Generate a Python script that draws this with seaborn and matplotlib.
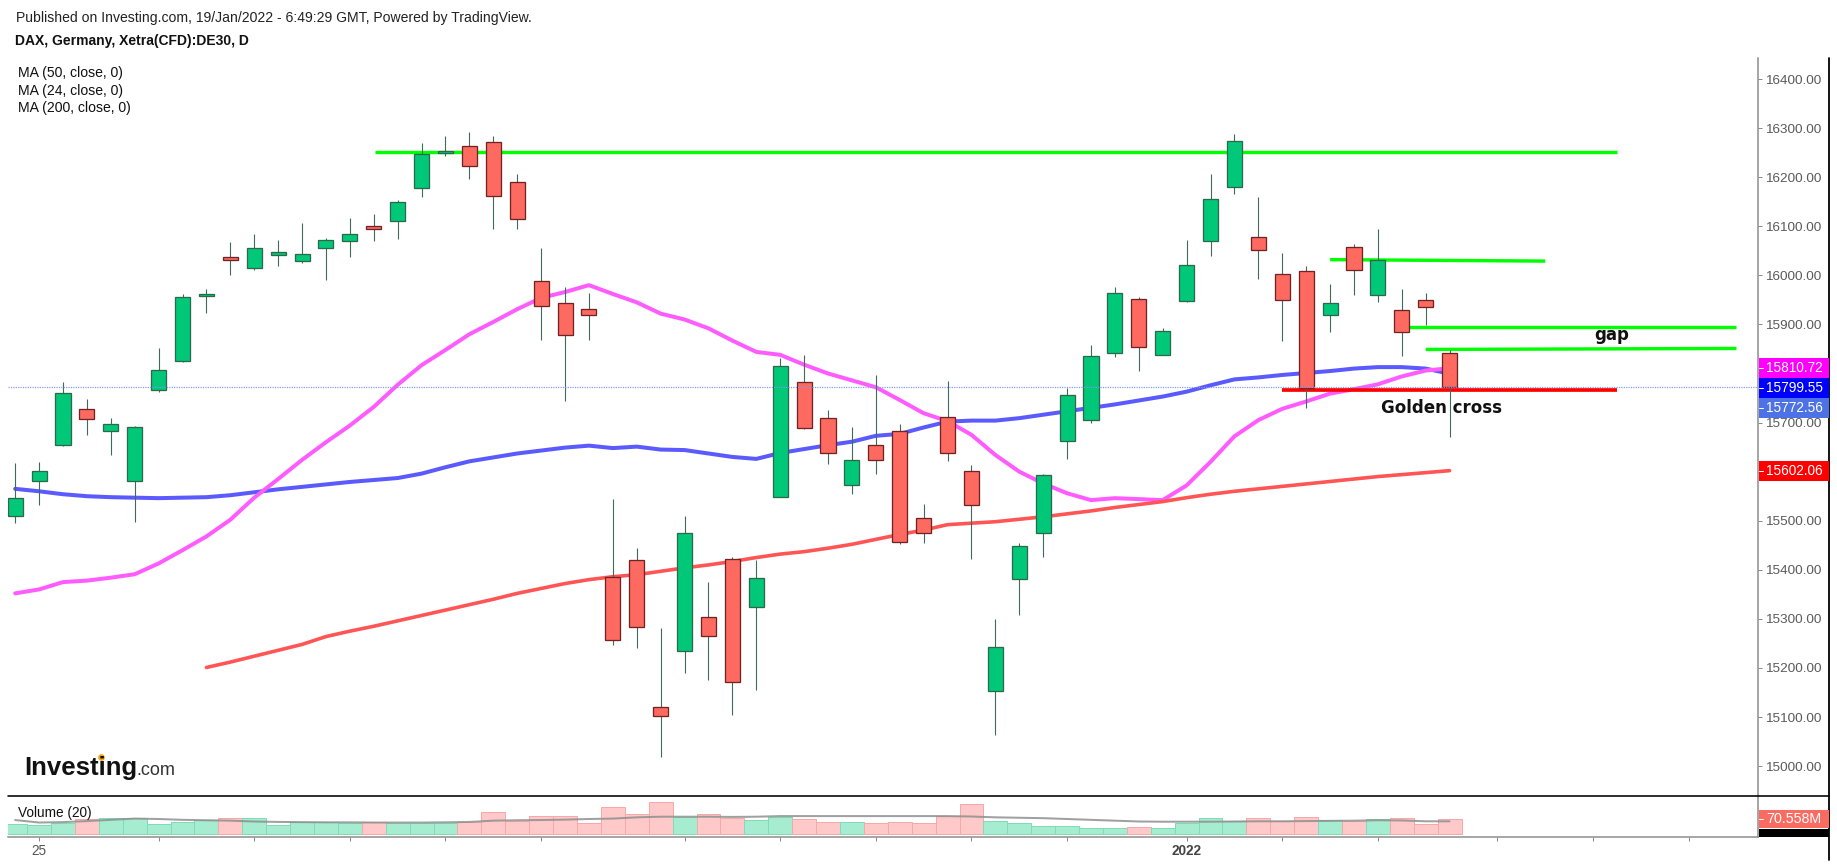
import numpy as np
import pandas as pd
import seaborn as sns
import matplotlib.pyplot as plt
from matplotlib.patches import Rectangle
from matplotlib.lines import Line2D

W, H = 1837, 866

# DAX daily candles, 22 Oct 2021 .. 18 Jan 2022
opens = [15510, 15581, 15655, 15727, 15682, 15581, 15766, 15825, 15958, 16037,
         16014, 16041, 16029, 16055, 16070, 16100, 16111, 16177, 16250, 16264,
         16271, 16190, 15988, 15943, 15931, 15385, 15421, 15120, 15234, 15303,
         15423, 15324, 15548, 15783, 15709, 15573, 15655, 15683, 15505, 15711,
         15601, 15154, 15381, 15476, 15662, 15705, 15841, 15952, 15838, 15948,
         16069, 16179, 16078, 16002, 16009, 15919, 16058, 15960, 15930, 15950,
         15841]
highs = [15617, 15620, 15783, 15748, 15709, 15693, 15852, 15962, 15973, 16068,
         16085, 16072, 16107, 16077, 16116, 16124, 16153, 16269, 16284, 16293,
         16284, 16206, 16055, 15977, 15963, 15544, 15444, 15281, 15510, 15376,
         15426, 15419, 15831, 15838, 15726, 15692, 15796, 15698, 15534, 15784,
         15614, 15299, 15454, 15595, 15771, 15858, 15976, 15956, 15892, 16071,
         16206, 16288, 16160, 16045, 16018, 15982, 16063, 16094, 15973, 15964,
         15848]
lows = [15496, 15533, 15653, 15674, 15633, 15498, 15763, 15824, 15924, 16000,
        16011, 16018, 16026, 15990, 16037, 16070, 16075, 16160, 16243, 16196,
        16094, 16094, 15868, 15743, 15868, 15247, 15241, 15018, 15190, 15175,
        15104, 15155, 15548, 15686, 15616, 15554, 15595, 15453, 15455, 15622,
        15422, 15063, 15308, 15427, 15626, 15700, 15834, 15806, 15838, 15945,
        16039, 16166, 15993, 15866, 15730, 15884, 15959, 15945, 15836, 15899,
        15671]
closes = [15546, 15601, 15760, 15708, 15698, 15691, 15808, 15956, 15961, 16031,
          16055, 16047, 16043, 16071, 16085, 16095, 16150, 16248, 16253, 16223,
          16161, 16115, 15937, 15879, 15919, 15258, 15283, 15102, 15474, 15265,
          15171, 15383, 15815, 15688, 15639, 15624, 15624, 15456, 15476, 15637,
          15533, 15242, 15448, 15594, 15756, 15836, 15965, 15853, 15886, 16022,
          16155, 16274, 16052, 15950, 15770, 15943, 16011, 16031, 15884, 15935,
          15772.56]
# volume in millions
volume = [46.6, 43.2, 54.2, 70.6, 76.8, 76.8, 46.6, 57.6, 67.2, 76.8,
          76.8, 44.6, 57.6, 57.6, 54.2, 57.6, 51.4, 51.4, 54.2, 57.6,
          105.6, 62.4, 87.9, 87.9, 54.2, 131.1, 96.0, 152.2, 80.2, 96.0,
          76.8, 67.2, 80.2, 70.6, 57.6, 57.6, 51.4, 57.6, 51.4, 87.9,
          142.6, 62.4, 52.8, 39.8, 39.8, 27.4, 27.4, 33.6, 27.4, 52.8,
          75.4, 62.4, 75.4, 63.8, 80.2, 67.2, 63.8, 70.6, 75.4, 46.6,
          70.558]
vol_ma = [67, 55, 57, 62, 68, 74, 72, 68, 66, 64, 60, 58, 57, 56, 56, 55, 55, 55,
          56, 58, 64, 66, 67, 69, 72, 74, 80, 83, 83, 83, 82, 83, 86, 86, 86, 86,
          86, 86, 86, 86, 84, 80, 78, 76, 72, 68, 64, 60, 59, 59, 59, 60, 61, 61,
          62, 63, 64, 66, 65, 61, 61]
ma50 = [15565, 15560, 15554, 15550, 15548, 15547, 15546, 15547, 15548, 15552,
        15558, 15564, 15569, 15574, 15579, 15583, 15587, 15596, 15609, 15621,
        15629, 15637, 15643, 15649, 15653, 15648, 15651, 15645, 15644, 15637,
        15630, 15626, 15638, 15646, 15654, 15661, 15673, 15677, 15690, 15702,
        15704, 15704, 15709, 15716, 15723, 15730, 15737, 15745, 15753, 15763,
        15776, 15788, 15792, 15797, 15801, 15805, 15810, 15813, 15813, 15810,
        15799.55]
ma24 = [15352, 15360, 15375, 15378, 15384, 15391, 15413, 15440, 15468, 15502,
        15547, 15585, 15624, 15660, 15694, 15732, 15777, 15817, 15848, 15880,
        15905, 15931, 15954, 15966, 15980, 15962, 15945, 15922, 15910, 15892,
        15867, 15844, 15838, 15818, 15800, 15786, 15772, 15746, 15719, 15703,
        15675, 15634, 15600, 15576, 15556, 15542, 15546, 15544, 15542, 15572,
        15620, 15672, 15705, 15728, 15743, 15759, 15768, 15778, 15794, 15806,
        15810.72]
ma200_start = 8
ma200 = [15201, 15212, 15224, 15236, 15248, 15264, 15275, 15285, 15296, 15307,
         15318, 15329, 15340, 15352, 15362, 15372, 15380, 15386, 15390, 15397,
         15404, 15410, 15417, 15425, 15432, 15437, 15444, 15452, 15462, 15472,
         15481, 15492, 15495, 15498, 15503, 15508, 15514, 15520, 15527, 15533,
         15539, 15547, 15554, 15560, 15565, 15570, 15575, 15580, 15585, 15590,
         15594, 15598, 15602.06]

tick_idx = [1, 6, 10, 14, 18, 22, 28, 32, 36, 40, 44, 49, 53, 57, 62, 66, 70]
tick_text = ['25', '', '', '', '', '', '', '', '', '', '', '2022', '', '', '', '', '']
price_ticks = list(range(15000, 16401, 100))

# hand drawn levels: start bar, end bar, start price, end price
lvl_x0 = [15.05, 55.0, 58.3, 59.0, 53.0]
lvl_x1 = [67.0, 64.0, 72.0, 72.0, 67.0]
lvl_p0 = [16251, 16032, 15894.5, 15849, 15767]
lvl_p1 = [16251, 16029, 15894.5, 15851, 15767]
lvl_kind = ['res', 'res', 'res', 'res', 'sup']

notes = ['gap', 'Golden cross']
note_x = [66.77, 59.66]
note_p = [15868, 15720]

df = pd.DataFrame({'o': opens, 'h': highs, 'l': lows, 'c': closes,
                   'vol': volume, 'vol_ma': vol_ma, 'ma50': ma50, 'ma24': ma24})
df['i'] = np.arange(len(df))
df['up'] = df['c'] >= df['o']
df200 = pd.DataFrame({'i': np.arange(ma200_start, ma200_start + len(ma200)), 'ma200': ma200})

sns.set_theme(style='white')
plt.rcParams['font.family'] = ['Liberation Sans', 'DejaVu Sans']

px = 0.72  # points per pixel at 100 dpi
fig = plt.figure(figsize=(W / 100, H / 100), dpi=100)
ax = fig.add_axes([8 / W, 1 - 795 / H, 1750 / W, 737 / H])
axv = fig.add_axes([8 / W, 1 - 837 / H, 1750 / W, 41 / H], sharex=ax)

ax.set_xlim(-0.30, 72.90)
ax.set_ylim(14941.2, 16442.8)
axv.set_ylim(-14.4, 182.4)

# moving averages (under the candles)
sns.lineplot(data=df, x='i', y='ma50', ax=ax, color='#5a5aff', linewidth=4 * px, zorder=2)
sns.lineplot(data=df, x='i', y='ma24', ax=ax, color='#ff5cff', linewidth=4 * px, zorder=2)
sns.lineplot(data=df200, x='i', y='ma200', ax=ax, color='#ff5555', linewidth=3.6 * px, zorder=2)

# drawn levels
for x0, x1, p0, p1, k in zip(lvl_x0, lvl_x1, lvl_p0, lvl_p1, lvl_kind):
    ax.plot([x0, x1], [p0, p1], color='#00ff00' if k == 'res' else '#ff0000',
            linewidth=(3.4 if k == 'res' else 3.7) * px, solid_capstyle='butt', zorder=2.5)

# candles
green, red = '#00c878', '#ff6a60'
ax.vlines(df['i'], df['l'], df['h'], colors='#3d6b55', linewidth=1.1 * px, zorder=3)
body_lo = np.minimum(df['o'], df['c'])
body_h = np.maximum((df['c'] - df['o']).abs(), 2.5)
ax.bar(df['i'], body_h, bottom=body_lo, width=0.63,
       color=np.where(df['up'], green, red),
       edgecolor=np.where(df['up'], '#2a6a4a', '#6e2424'),
       linewidth=1.3 * px, zorder=4)

# last price line
ax.axhline(closes[-1], color='#7b9cf0', linewidth=1.2 * px, linestyle=(0, (1, 1)), zorder=5)

for t, xi, p in zip(notes, note_x, note_p):
    ax.text(xi, p, t, ha='center', va='baseline', fontsize=12, fontweight='bold',
            family='DejaVu Sans', color='#111111', zorder=6)


def y_px(axis, v):
    return H - axis.transData.transform((0, v))[1]


# value badges on the price scale, stacked so they do not overlap
badge_h = 20.0
labels = sorted([(ma24[-1], '#ff00ff'), (ma50[-1], '#0000ff'),
                 (closes[-1], '#4d72e6'), (ma200[-1], '#ff0000')], key=lambda t: -t[0])
badge_pos = []
prev = -1e9
for v, col in labels:
    yc = max(y_px(ax, v), prev + badge_h)
    badge_pos.append((yc, v, col))
    prev = yc

# price axis (labels hidden behind a badge are left blank)
for s in ['top', 'left', 'bottom']:
    ax.spines[s].set_visible(False)
ax.spines['right'].set_color('#8a8a8a')
ax.spines['right'].set_linewidth(1.5 * px)
ax.yaxis.tick_right()
ax.set_yticks(price_ticks)
tick_labels = []
for v in price_ticks:
    yv = y_px(ax, v)
    covered = any(abs(yv - yc) < badge_h / 2 for yc, _, _ in badge_pos)
    tick_labels.append('' if covered else f'{v:.2f}')
ax.set_yticklabels(tick_labels)
ax.tick_params(axis='y', which='both', right=True, length=4 * px, width=1 * px, color='#8a8a8a',
               pad=3.5 * px, labelsize=9.7, labelcolor='#5a5a5a')
ax.tick_params(axis='x', bottom=False, labelbottom=False)
ax.set_xlabel('')
ax.set_ylabel('')
ax.grid(False)

# volume pane
vcol = np.where(df['up'], '#a6ecd0', '#ffc9c9')
vedge = np.where(df['up'], '#7fdcb6', '#f5a9a9')
axv.bar(df['i'], df['vol'], width=1.0, color=vcol, edgecolor=vedge, linewidth=1 * px, zorder=2)
sns.lineplot(data=df, x='i', y='vol_ma', ax=axv, color='#8f8f8f', linewidth=2 * px, alpha=0.85, zorder=3)
for s in ['top', 'left']:
    axv.spines[s].set_visible(False)
for s in ['right', 'bottom']:
    axv.spines[s].set_color('#8a8a8a')
    axv.spines[s].set_linewidth(1.5 * px)
axv.set_yticks([])
axv.set_xticks(tick_idx)
axv.set_xticklabels(tick_text)
axv.tick_params(axis='x', bottom=True, length=4 * px, width=1 * px, color='#8a8a8a',
                pad=3 * px, labelsize=9.8, labelcolor='#555555')
for lab in axv.get_xticklabels():
    if lab.get_text() == '2022':
        lab.set_fontweight('bold')
        lab.set_color('#444444')
axv.set_xlabel('')
axv.set_ylabel('')
axv.grid(False)

# header
fig.text(15.8 / W, 1 - 17.7 / H, 'Published on Investing.com, 19/Jan/2022 - 6:49:29 GMT, Powered by TradingView.',
         fontsize=10.1, color='#222222', va='center', ha='left')
fig.text(15.3 / W, 1 - 40.7 / H, 'DAX, Germany, Xetra(CFD):DE30, D',
         fontsize=10.0, fontweight='bold', color='#111111', va='center', ha='left')
for k, lab in enumerate(['MA (50, close, 0)', 'MA (24, close, 0)', 'MA (200, close, 0)']):
    fig.text(18 / W, 1 - (73.3 + 17.2 * k) / H, lab, fontsize=10.1, color='#111111', va='center', ha='left')
fig.text(18 / W, 1 - 813 / H, 'Volume (20)', fontsize=9.8, color='#111111', va='center', ha='left')

# logo
fig.text(24.5 / W, 1 - 775 / H, 'Investing', fontsize=18.5, fontweight='bold', color='#111111',
         va='baseline', ha='left')
fig.text(136.5 / W, 1 - 775 / H, '.com', fontsize=13, color='#333333', va='baseline', ha='left')
fig.add_artist(Line2D([101.4 / W], [1 - 757.0 / H], marker='o', markersize=4.8, color='#f5a31a',
                      markeredgewidth=0, transform=fig.transFigure))

# frame lines
fig.add_artist(Line2D([8 / W, 1829 / W], [1 - 795.5 / H] * 2, color='black', linewidth=1.6 * px,
                      transform=fig.transFigure))
fig.add_artist(Line2D([1829 / W] * 2, [1 - 58 / H, 1 - 860 / H], color='black', linewidth=1.8 * px,
                      transform=fig.transFigure))


def badge(yc, text, bg, h=20.0, size=9.8):
    fig.add_artist(Rectangle((1759 / W, 1 - (yc + h / 2) / H), 70 / W, h / H, transform=fig.transFigure,
                             facecolor=bg, edgecolor='none', zorder=10))
    fig.add_artist(Line2D([1759 / W, 1763 / W], [1 - yc / H] * 2, color='white', linewidth=1 * px,
                          transform=fig.transFigure, zorder=11))
    fig.text(1766 / W, 1 - yc / H, text, fontsize=size, color='white', va='center', ha='left', zorder=11)


for yc, v, col in badge_pos:
    badge(yc, f'{v:.2f}', col, h=badge_h)

yv = y_px(axv, volume[-1])
badge(yv, f'{volume[-1]:.3f}M', '#fa6c62', h=18, size=10.3)
fig.add_artist(Rectangle((1759 / W, 1 - 837 / H), 70 / W, 8.5 / H, transform=fig.transFigure,
                         facecolor='black', edgecolor='none', zorder=10))

fig.savefig('out.png', dpi=100)
